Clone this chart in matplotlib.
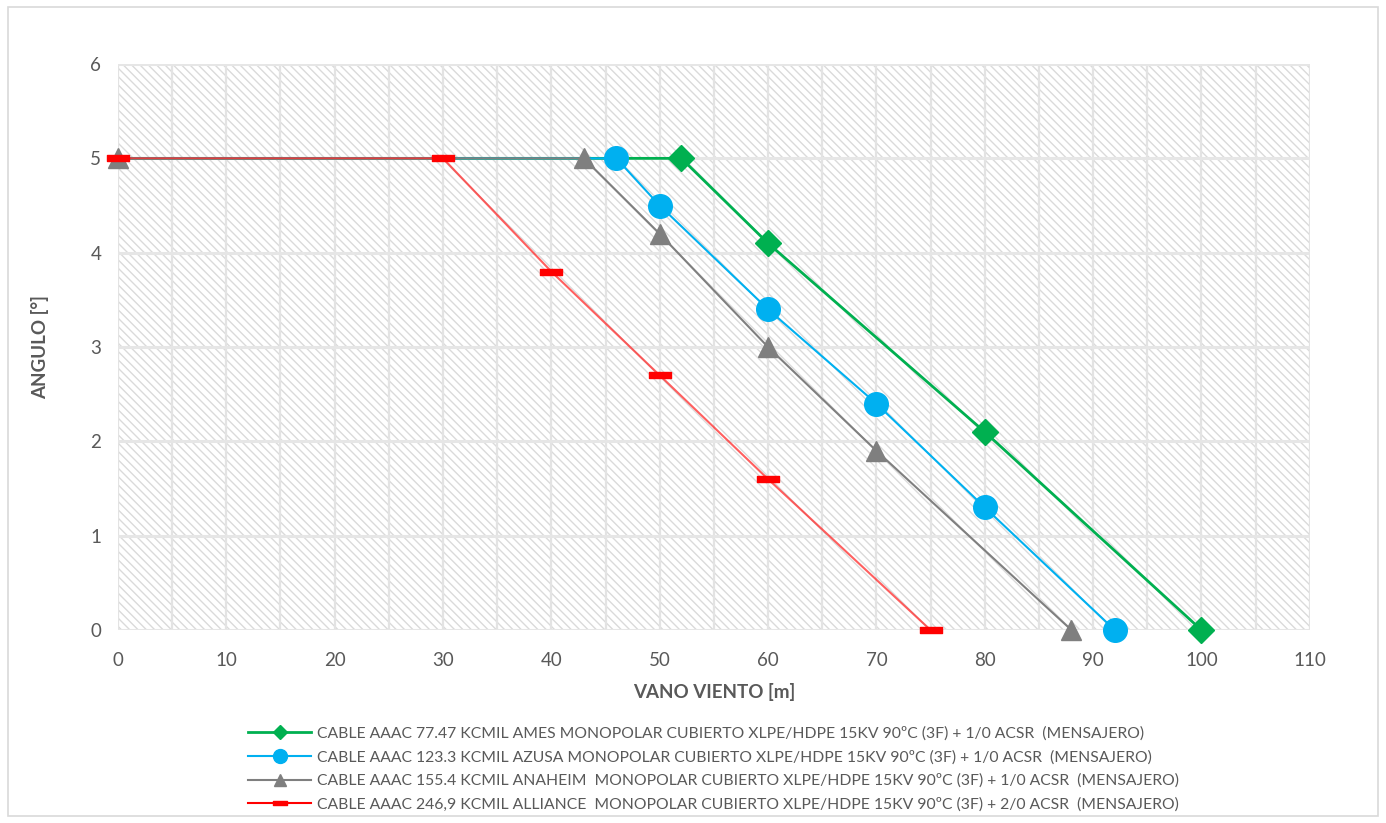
import matplotlib
matplotlib.use("Agg")
import matplotlib.pyplot as plt
import numpy as np
from matplotlib.lines import Line2D
from matplotlib.path import Path
from matplotlib.patches import Rectangle

# data
green_x = [0, 52, 60, 80, 100]
green_y = [5, 5, 4.1, 2.1, 0]
blue_x = [0, 46, 50, 60, 70, 80, 92]
blue_y = [5, 5, 4.5, 3.4, 2.4, 1.3, 0]
gray_x = [0, 43, 50, 60, 70, 88]
gray_y = [5, 5, 4.2, 3.0, 1.9, 0]
red_x = [0, 30, 40, 50, 60, 75]
red_y = [5, 5, 3.8, 2.7, 1.6, 0]

labels = [
    "CABLE AAAC 77.47 KCMIL AMES MONOPOLAR CUBIERTO XLPE/HDPE 15KV 90ºC (3F) + 1/0 ACSR  (MENSAJERO)",
    "CABLE AAAC 123.3 KCMIL AZUSA MONOPOLAR CUBIERTO XLPE/HDPE 15KV 90ºC (3F) + 1/0 ACSR  (MENSAJERO)",
    "CABLE AAAC 155.4 KCMIL ANAHEIM  MONOPOLAR CUBIERTO XLPE/HDPE 15KV 90ºC (3F) + 1/0 ACSR  (MENSAJERO)",
    "CABLE AAAC 246,9 KCMIL ALLIANCE  MONOPOLAR CUBIERTO XLPE/HDPE 15KV 90ºC (3F) + 2/0 ACSR  (MENSAJERO)",
]

x_ticks = np.arange(0, 111, 10)
y_ticks = np.arange(0, 7, 1)

GREEN = "#00b050"
BLUE = "#00b0f0"
GRAY = "#7f7f7f"
RED = "#ff0000"
TEXT = "#595959"
HATCH = "#dadada"

plt.rcParams["font.family"] = ["Lato", "DejaVu Sans"]
plt.rcParams["hatch.color"] = HATCH
plt.rcParams["hatch.linewidth"] = 1.0

# flat rectangle marker for the red series
dash_marker = Path([(-1.5, -0.45), (1.5, -0.45), (1.5, 0.45), (-1.5, 0.45), (-1.5, -0.45)],
                   [Path.MOVETO, Path.LINETO, Path.LINETO, Path.LINETO, Path.CLOSEPOLY])

fig = plt.figure(figsize=(13.86, 8.23), dpi=100)
ax = fig.add_axes([0.0851, 0.2345, 0.8599, 0.6877])

# chart border
fig.patches.append(Rectangle((0.006, 0.009), 0.988, 0.983, transform=fig.transFigure,
                             fill=False, edgecolor="#d9d9d9", linewidth=1.2))

# hatched plot area
ax.add_patch(Rectangle((0, 0), 110, 6, facecolor="white", edgecolor=HATCH, linewidth=0,
                       hatch="\\\\\\\\", zorder=0))

ax.set_xlim(0, 110)
ax.set_ylim(0, 6)
ax.set_xticks(x_ticks)
ax.set_yticks(y_ticks)
ax.set_xticks(np.arange(0, 111, 5), minor=True)
ax.grid(True, which="both", axis="x", color="#e3e3e3", linewidth=1.6, zorder=1)
ax.grid(True, which="major", axis="y", color="#e6e6e6", linewidth=2.2, zorder=1)
ax.set_axisbelow(False)
for s in ax.spines.values():
    s.set_visible(False)
ax.tick_params(which="both", length=0, labelsize=13.5, labelcolor=TEXT)
ax.tick_params(axis="x", pad=16)
ax.tick_params(axis="y", pad=12)

ax.plot(green_x, green_y, color=GREEN, linewidth=2.0, marker="D", markersize=13,
        markerfacecolor=GREEN, markeredgecolor=GREEN, markevery=slice(1, None),
        zorder=3, clip_on=False)
ax.plot(blue_x, blue_y, color=BLUE, linewidth=1.5, marker="o", markersize=17,
        markerfacecolor=BLUE, markeredgecolor=BLUE, markevery=slice(1, None),
        zorder=4, clip_on=False)
ax.plot(gray_x, gray_y, color=GRAY, linewidth=1.5, marker="^", markersize=15,
        markerfacecolor=GRAY, markeredgecolor=GRAY, zorder=5, clip_on=False)
ax.plot(red_x, red_y, color="#ff2a2a", linewidth=1.5, alpha=0.75, zorder=6, clip_on=False)
ax.plot(red_x, red_y, linestyle="none", marker=dash_marker, markersize=16,
        markerfacecolor=RED, markeredgecolor=RED, zorder=6, clip_on=False)

ax.set_xlabel("VANO VIENTO [m]", fontsize=13.5, fontweight="bold", color=TEXT, labelpad=10)
ax.set_ylabel("ANGULO [°]", fontsize=13.5, fontweight="bold", color=TEXT, labelpad=30)

handles = [
    Line2D([0], [0], color=GREEN, linewidth=2.0, marker="D", markersize=7, markerfacecolor=GREEN),
    Line2D([0], [0], color=BLUE, linewidth=1.5, marker="o", markersize=10, markerfacecolor=BLUE),
    Line2D([0], [0], color=GRAY, linewidth=1.5, marker="^", markersize=8, markerfacecolor=GRAY),
    Line2D([0], [0], color=RED, linewidth=1.5, marker=dash_marker, markersize=10, markerfacecolor=RED),
]
leg = fig.legend(handles, labels, loc="upper center", bbox_to_anchor=(0.515, 0.127), ncol=1,
                 frameon=False, fontsize=11.3, handlelength=4.0, handletextpad=0.4,
                 labelspacing=0.6, borderpad=0)
for t in leg.get_texts():
    t.set_color(TEXT)

fig.savefig("out.png", dpi=100)
